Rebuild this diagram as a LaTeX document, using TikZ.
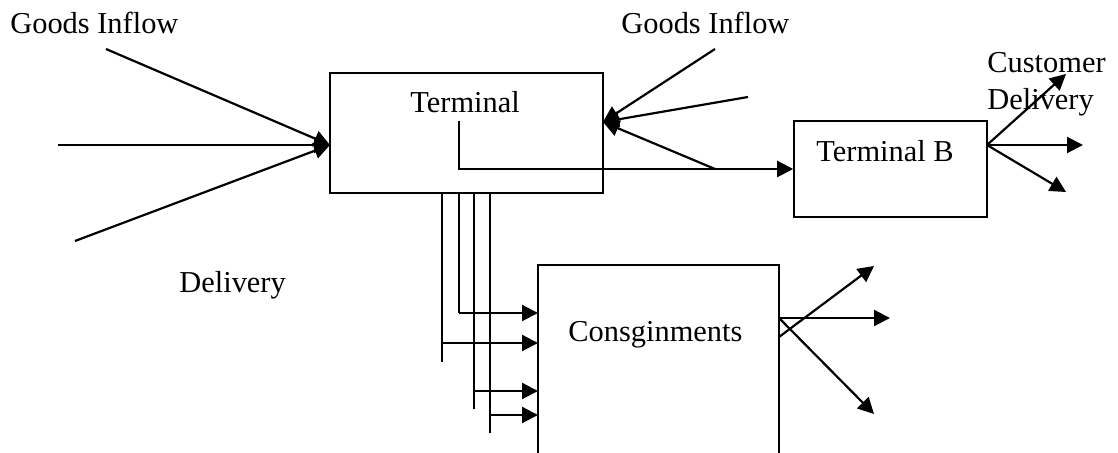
\documentclass[tikz,border=0pt]{standalone}
\usepackage{fontspec}
\setmainfont{Liberation Serif}
\usetikzlibrary{arrows.meta}
\begin{document}
\begin{tikzpicture}[x=0.5pt, y=-0.5pt,
		every node/.style={font=\fontsize{15.2}{18.5}\selectfont},
		box/.style={draw, rectangle, line width=0.8pt, inner sep=0pt},
		lbl/.style={inner sep=0pt, anchor=base west},
		flow/.style={line width=1.1pt, -{Triangle[length=8pt, width=8pt]}},
		feed/.style={line width=0.9pt}]
		\useasboundingbox (0,0) rectangle (1118,453);
		% boxes
		\node[box, minimum width=136.5pt, minimum height=60pt] (term) at (466.5,133) {};
		\node[box, minimum width=96.5pt, minimum height=48pt] (termb) at (890.5,169) {};
		\node[box, minimum width=120.5pt, minimum height=110pt] (cons) at (658.5,375) {};
		\node[lbl] (termtxt) at (410,113) {Terminal};
		\node[lbl] (termbtxt) at (816,162) {Terminal B};
		\node[lbl] (constxt) at (568,342) {Consginments};
		% labels
		\node[lbl] (inflowa) at (10,34) {Goods Inflow};
		\node[lbl] (inflowb) at (621,34) {Goods Inflow};
		\node[lbl] (deliv) at (179,293) {Delivery};
		\node[lbl] (cust) at (987,73) {Customer};
		\node[lbl] (custb) at (987,110) {Delivery};
		% inflow to terminal (left)
		\coordinate (la) at (106,49);
		\coordinate (lb) at (58,145);
		\coordinate (lc) at (75,241);
		\coordinate (tin) at (330,145);
		\foreach \s in {la,lb,lc}
			\draw[flow] (\s) -- (tin);
		% inflow to terminal (right)
		\coordinate (ra) at (715,49);
		\coordinate (rb) at (748,97);
		\coordinate (rc) at (715,169);
		\coordinate (tout) at (603,122);
		\foreach \s in {ra,rb,rc}
			\draw[flow] (\s) -- (tout);
		% terminal to terminal B
		\coordinate (tt) at (459,121);
		\draw[flow] (tt) |- (termb.west);
		% terminal B to customers
		\coordinate (bo) at (987,145);
		\coordinate (ba) at (1066,74);
		\coordinate (bb) at (1083,145);
		\coordinate (bc) at (1066,192);
		\foreach \t in {ba,bb,bc}
			\draw[flow] (bo) -- (\t);
		% terminal to consignments
		\draw[feed] (442,193) -- (442,362);
		\draw[feed] (459,193) -- (459,313);
		\draw[feed] (474,193) -- (474,409);
		\draw[feed] (490,193) -- (490,433);
		\coordinate (ca) at (538,313);
		\coordinate (cb) at (538,343);
		\coordinate (cc) at (538,391);
		\coordinate (cd) at (538,415);
		\draw[flow] (459,313) -- (ca);
		\draw[flow] (442,343) -- (cb);
		\draw[flow] (474,391) -- (cc);
		\draw[flow] (490,415) -- (cd);
		% consignments out
		\coordinate (oa) at (779,337);
		\coordinate (ob) at (779,318);
		\draw[flow] (oa) -- (874,266);
		\draw[flow] (ob) -- (890,318);
		\draw[flow] (ob) -- (874,414);
	\end{tikzpicture}
\end{document}
